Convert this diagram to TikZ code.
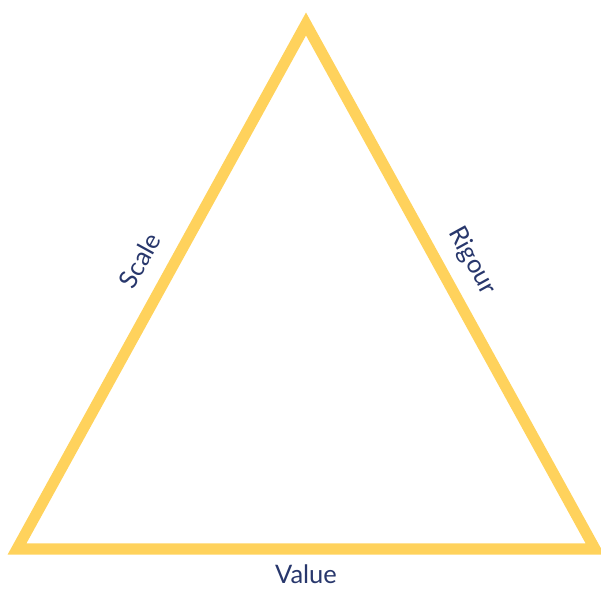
\documentclass[tikz,border=0pt]{standalone}
\usepackage{fontspec}
\setmainfont{Lato}
\usetikzlibrary{positioning}
\definecolor{sunyellow}{HTML}{FFD25C}
\definecolor{inkblue}{HTML}{28376C}

\begin{document}
\begin{tikzpicture}[
  every node/.style={text=inkblue, font=\fontsize{14.5}{17}\selectfont, inner sep=0pt},
  side/.style={draw=sunyellow, line width=6.3pt, line join=miter},
]
\useasboundingbox (0,0) rectangle (12.02,11.8);

% Corners
\coordinate (apex) at (6.12,11.32);
\coordinate (lft) at (0.34,0.82);
\coordinate (rgt) at (11.9,0.82);

% Triangle
\draw[side] (lft) -- (apex) -- (rgt) -- cycle;

% Labels on the sides
\path (lft) -- (apex) node[pos=0.52, sloped, above=0.44cm] (scale) {Scale};
\path (apex) -- (rgt) node[pos=0.48, sloped, above=0.38cm] (rigour) {Rigour};
\path (lft) -- (rgt) node[midway, below=0.31cm] (value) {Value};

\end{tikzpicture}
\end{document}
